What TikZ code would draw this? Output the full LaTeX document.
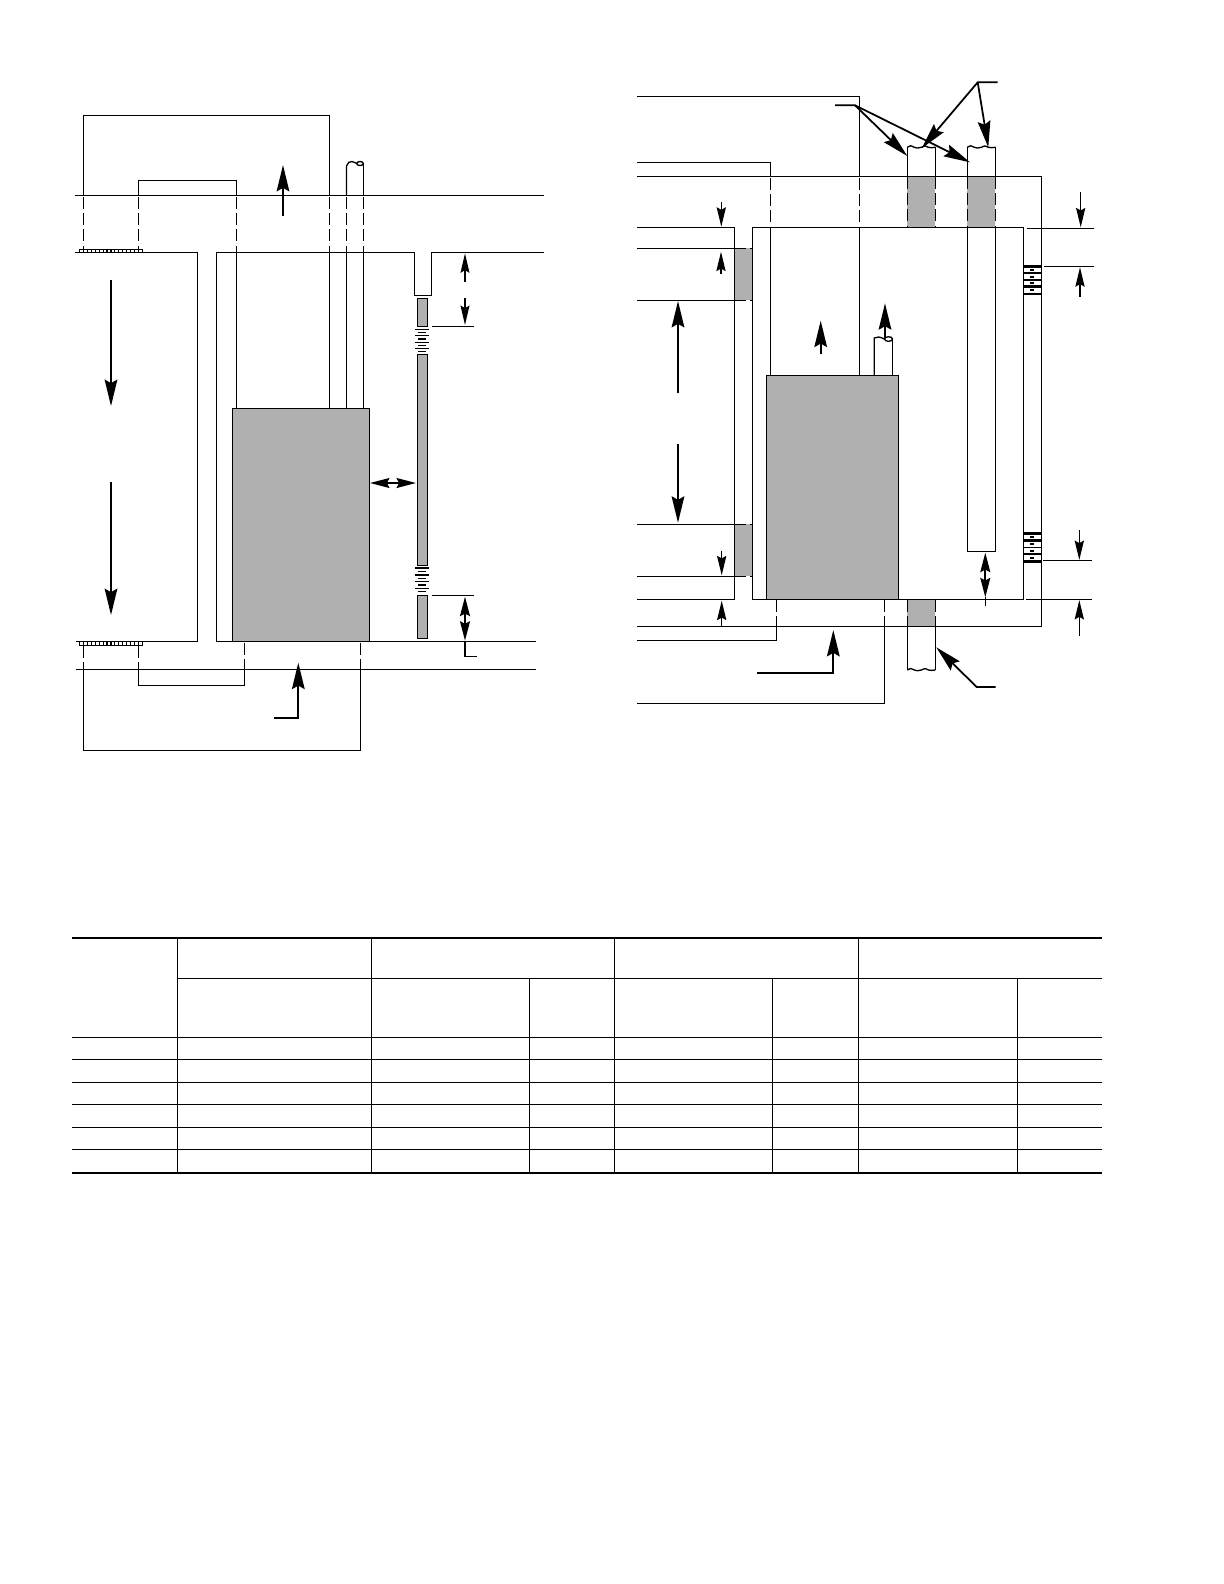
\documentclass[tikz,border=0pt]{standalone}
\usepackage{tikz}
\usetikzlibrary{arrows.meta, calc}

\definecolor{unitgray}{gray}{0.69}
\tikzset{
    wall/.style={line width=0.38pt},
    hidden/.style={line width=0.38pt, dash pattern=on 3.4pt off 1.2pt},
    bigarrow/.style={line width=0.5pt, -{Stealth[length=7.5pt, width=3.6pt, inset=1pt]}},
    dimarrow/.style={line width=0.5pt, -{Stealth[length=5.5pt, width=2.5pt, inset=0.7pt]}},
    dimarrows/.style={line width=0.6pt, {Stealth[length=5.5pt, width=2.8pt, inset=0.7pt]}-{Stealth[length=5.5pt, width=2.8pt, inset=0.7pt]}},
    smallarrow/.style={line width=0.45pt, -{Stealth[length=5.5pt, width=2.6pt, inset=0.7pt]}},
    rule/.style={line width=0.38pt},
    heavyrule/.style={line width=0.65pt},
}
\newcommand{\wavycut}[1]{\draw[wall, shift={#1}] (0,0) .. controls (2,-2.5) and (4,-1.5) .. (7,0) .. controls (9,1) and (11,1) .. (14,0) .. controls (16,-1.5) and (18,-2) .. (21,0) .. controls (23,1) and (25,0) .. (28,0);}

\begin{document}
\begin{tikzpicture}[x=0.01cm, y=-0.01cm]
    \useasboundingbox (0,0) rectangle (1224,1584);

    % left view: roof and floor of the wall
    \draw[wall] (75,195.3) -- (543.7,195.3);
    \draw[wall] (75,252.3) -- (197.7,252.3) -- (197.7,641.6) -- (76,641.6);
    \draw[wall] (543.7,252.3) -- (431.3,252.3) -- (431.3,295.3) -- (414.3,295.3) -- (414.3,252.3) -- (216.3,252.3) -- (216.3,641.6) -- (536,641.6);
    \draw[wall] (76,669.3) -- (536,669.3);

    % left view: appliance
    \draw[wall, fill=unitgray] (232.3,408.3) rectangle (369.3,641.6);

    % left view: pipes above
    \draw[wall] (83.3,195.3) -- (83.3,115.3) -- (329.3,115.3) -- (329.3,195.3);
    \draw[hidden] (83.3,197) -- (83.3,250);
    \draw[hidden] (329.3,197) -- (329.3,252);
    \draw[wall] (329.3,252.3) -- (329.3,408.3);
    \draw[wall] (138.3,195.3) -- (138.3,180.3) -- (236.3,180.3) -- (236.3,195.3);
    \draw[hidden] (138.3,197) -- (138.3,250);
    \draw[hidden] (236.3,197) -- (236.3,252);
    \draw[wall] (236.3,252.3) -- (236.3,408.3);

    % left view: flue
    \draw[wall] (346.5,195.3) -- (346.5,166) .. controls (347,163) and (350,161) .. (352,161.5) .. controls (354,162) and (355,163) .. (357,163.5);
    \draw[wall] (363.3,195.3) -- (363.3,163.5);
    \draw[wall] (360,163.5) ellipse (3.3 and 2);
    \foreach \x in {346.5, 363.3} {
        \draw[hidden] (\x,197) -- (\x,252);
        \draw[wall] (\x,252.3) -- (\x,408.3);
    }

    % left view: pipes below
    \draw[hidden] (83.3,646) -- (83.3,669);
    \draw[wall] (83.3,669.3) -- (83.3,750.3) -- (360.3,750.3) -- (360.3,669.3);
    \draw[hidden] (360.3,643) -- (360.3,669);
    \draw[hidden] (138.3,646) -- (138.3,669);
    \draw[wall] (138.3,669.3) -- (138.3,685.3) -- (244.3,685.3) -- (244.3,669.3);
    \draw[hidden] (244.3,643) -- (244.3,669);

    % left view: grilles on the floor lines
    \foreach \y/\yy in {249.7/252.3, 641.6/645.7} {
        \draw[line width=0.3pt] (79.3,\y) rectangle (142.7,\yy);
        \foreach \i in {1,...,15}
            \draw[line width=0.3pt] ({79.3+\i*3.96},\y) -- ({79.3+\i*3.96},\yy);
    }

    % left view: louvered door
    \draw[wall, fill=unitgray] (417.3,298.3) rectangle (427.7,326.7);
    \draw[wall, fill=unitgray] (417.3,354.3) rectangle (427.7,565.7);
    \draw[wall, fill=unitgray] (417.3,595.3) rectangle (427.7,638.7);
    \foreach \y in {329.3, 335.7, 342.3, 348.7, 568, 575, 581.7, 588.3}
        \draw[rule] (415,\y) -- (429.3,\y);
    \foreach \y in {332.3, 339, 345.3, 351.7, 571.7, 578.3, 585, 591.7}
        \draw[rule] (418.3,\y) -- (426,\y);

    % left view: arrows
    \draw[bigarrow] (283,215.7) -- (283,165);
    \draw[bigarrow] (111,280) -- (111,406);
    \draw[bigarrow] (111,482) -- (111,615);
    \draw[dimarrows] (370,483) -- (416,483);
    \draw[bigarrow] (273.7,718.3) -- (298.3,718.3) -- (298.3,662.7);

    % left view: door dimensions
    \draw[rule] (432,326.3) -- (473.7,326.3);
    \draw[rule] (432,595.3) -- (473.7,595.3);
    \draw[dimarrow] (465,281.7) -- (465,253.3);
    \draw[dimarrow] (465,298.3) -- (465,325);
    \draw[dimarrows] (465,596.7) -- (465,640.7);
    \draw[rule] (465,641.6) -- (465,656.3) -- (476.7,656.3);

    % right view: ducts
    \fill[unitgray] (734.3,248.3) rectangle (752.3,300.3);
    \fill[unitgray] (734.3,524.3) rectangle (752.3,576.3);
    \fill[unitgray] (907.3,176.3) rectangle (935.3,227.3);
    \fill[unitgray] (967.3,176.3) rectangle (995.3,227.3);
    \fill[unitgray] (907.3,599.3) rectangle (935.3,626.3);

    \draw[wall] (637,176.3) -- (1041.3,176.3) -- (1041.3,626.3) -- (637,626.3);
    \draw[wall] (752.3,227.3) rectangle (1023.3,599.3);
    \draw[wall] (637,227.3) -- (734.3,227.3) -- (734.3,599.3) -- (637,599.3);
    \foreach \y in {248.3, 300.3, 524.3, 576.3} {
        \draw[wall] (637,\y) -- (734.3,\y);
        \draw[hidden] (734.3,\y) -- (752.3,\y);
    }

    % right view: appliance
    \draw[wall, fill=unitgray] (766.3,375.4) rectangle (898.3,599.3);

    % right view: pipes above
    \draw[wall] (637,96.3) -- (859.3,96.3) -- (859.3,176.3);
    \draw[wall] (637,162.3) -- (770.3,162.3) -- (770.3,176.3);
    \foreach \x in {770.3, 859.3} {
        \draw[hidden] (\x,178) -- (\x,227);
        \draw[wall] (\x,227.3) -- (\x,375.4);
    }

    % right view: risers
    \foreach \x in {907.3, 935.3, 967.3, 995.3} {
        \draw[wall] (\x,147.3) -- (\x,176.3);
        \draw[hidden] (\x,177) -- (\x,227);
    }
    \wavycut{(907.3,147.3)}
    \wavycut{(967.3,147.3)}
    \draw[wall] (967.3,227.3) -- (967.3,551.3) -- (995.3,551.3) -- (995.3,227.3);

    % right view: flue
    \draw[wall] (874.3,375.4) -- (874.3,338) .. controls (877,336) and (880,337) .. (884.5,339);
    \draw[wall] (892.7,375.4) -- (892.7,339);
    \draw[wall] (888.5,339) ellipse (4 and 2.3);

    % right view: pipes below
    \foreach \x in {776.3, 884.3} {
        \draw[hidden] (\x,600) -- (\x,626);
    }
    \draw[wall] (637,640.3) -- (776.3,640.3) -- (776.3,626.3);
    \draw[wall] (637,703.3) -- (884.3,703.3) -- (884.3,626.3);
    \foreach \x in {907.3, 935.3} {
        \draw[hidden] (\x,600) -- (\x,626);
        \draw[wall] (\x,626.3) -- (\x,670);
    }
    \wavycut{(907.3,670)}

    % right view: louvers
    \foreach \y/\w in {266.3/0.9pt, 273/0.45pt, 280/0.45pt, 286.7/0.9pt, 293.7/0.45pt, 533.7/0.9pt, 540.7/0.7pt, 547.3/0.45pt, 554/0.7pt, 561.3/0.9pt}
        \draw[line width=\w] (1023.3,\y) -- (1041.3,\y);
    \foreach \y in {270, 276.7, 283.3, 290, 537.3, 544, 551, 557.7}
        \draw[line width=0.55pt] (1030,\y) -- (1034,\y);

    % right view: arrows
    \draw[bigarrow] (885,337.7) -- (885,303.3);
    \draw[bigarrow] (820.7,354.3) -- (820.7,320.7);
    \draw[bigarrow] (678,393) -- (678,301);
    \draw[bigarrow] (678,444) -- (678,522.7);
    \draw[bigarrow] (757,672.7) -- (833.3,672.7) -- (833.3,630);
    \draw[smallarrow] (721.3,202.3) -- (721.3,226.7);
    \draw[smallarrow] (721,274) -- (721,251.7);
    \draw[smallarrow] (721.7,551.3) -- (721.7,575.3);
    \draw[smallarrow] (721.7,626.3) -- (721.7,600.7);
    \draw[dimarrows] (985.3,552.7) -- (985.3,597.3);
    \draw[rule] (985.3,597) -- (985.3,605.7);

    % right view: dimensions at the louvers
    \draw[rule] (1027,228.3) -- (1094,228.3);
    \draw[rule] (1044,266.3) -- (1094,266.3);
    \draw[rule] (1043,560.3) -- (1092,560.3);
    \draw[rule] (1026,599.3) -- (1092,599.3);
    \draw[smallarrow] (1080.7,192.3) -- (1080.7,227.3);
    \draw[smallarrow] (1080,296.7) -- (1080,267.3);
    \draw[smallarrow] (1079.3,530) -- (1079.3,560);
    \draw[smallarrow] (1079.3,635.7) -- (1079.3,600);

    % right view: leaders
    \draw[bigarrow] (835,105.3) -- (855,105.3) -- (907.3,156);
    \draw[bigarrow] (855,105.3) -- (970,162.3);
    \draw[bigarrow] (997.7,82.3) -- (977.7,82.3) -- (921.7,148.3);
    \draw[bigarrow] (977.7,82.3) -- (988.3,147.3);
    \draw[bigarrow] (995.7,687) -- (976.7,687) -- (936.3,647.3);

    % table
    \draw[heavyrule] (72,937.7) -- (1102,937.7);
    \draw[rule] (177,978.3) -- (1102,978.3);
    \foreach \y in {1037.3, 1059.3, 1082.3, 1104.3, 1127.3, 1149.3}
        \draw[rule] (72,\y) -- (1102,\y);
    \draw[heavyrule] (72,1172.8) -- (1102,1172.8);
    \foreach \x in {177.2, 371.4, 614.5, 858.2}
        \draw[rule] (\x,937.7) -- (\x,1172.8);
    \foreach \x in {529.4, 772.5, 1017.4}
        \draw[rule] (\x,978.3) -- (\x,1172.8);
\end{tikzpicture}
\end{document}
